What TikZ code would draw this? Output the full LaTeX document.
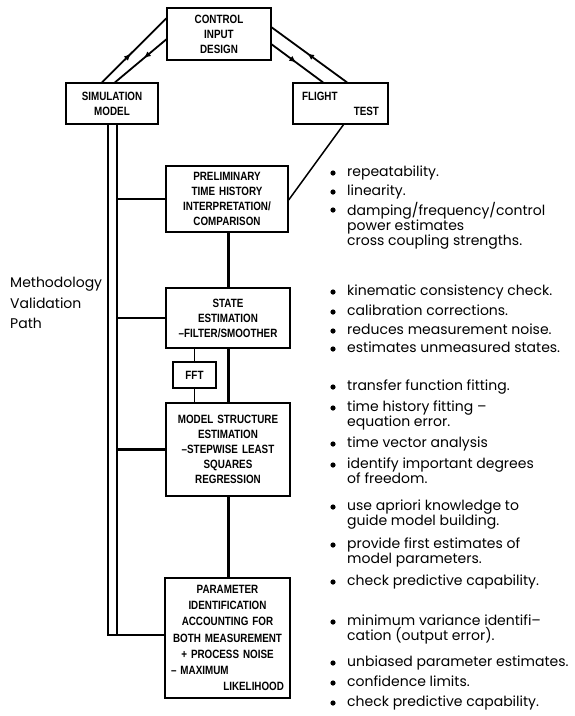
\documentclass[tikz,border=0pt]{standalone}
\usepackage{fontspec}
\newfontfamily\boxfont[FakeStretch=0.82]{Liberation Sans}
\newfontfamily\notefont{Poppins}
\usetikzlibrary{arrows.meta,decorations.markings}

\begin{document}
\begin{tikzpicture}[x=1pt, y=-1pt,
    midarrow/.style={postaction={decorate}, decoration={markings,
        mark=at position #1 with {\arrow{Latex[length=7pt,width=6pt]}}}}]
        \tikzstyle{box}=[draw, line width=1.3pt, inner xsep=3pt, inner ysep=0pt, align=center,
          font=\boxfont\bfseries\fontsize{12}{15}\selectfont]
        \tikzstyle{note}=[anchor=north west, inner sep=0pt, align=left,
          font=\notefont\fontsize{14}{15}\selectfont]
        \tikzstyle{rail}=[line width=2.3pt]

        \useasboundingbox (0,0) rectangle (575,716);

        % boxes
        \path (219,34) node[box, text width=98pt, minimum height=52pt] (ctrl) {CONTROL\\INPUT\\DESIGN};
        \path (112,103.5) node[box, text width=86pt, minimum height=41pt] (sim) {SIMULATION\\MODEL};
        \path (340.5,103.5) node[box, text width=89pt, minimum height=41pt] (flight)
          {\hspace*{6pt}FLIGHT\hspace{0pt plus 1filll}\null\\\hspace*{0pt plus 1filll}TEST\hspace*{6pt}\null};
        \path (227,199) node[box, text width=116pt, minimum height=66pt] (prelim)
          {PRELIMINARY\\TIME HISTORY\\INTERPRETATION/\\COMPARISON};
        \path (228,318) node[box, text width=118pt, minimum height=60pt] (state)
          {STATE\\ESTIMATION\\–FILTER/SMOOTHER};
        \path (194.5,375) node[box, text width=37pt, minimum height=26pt] (fft) {FFT};
        \path (228,449.5) node[box, text width=118pt, minimum height=93pt] (model)
          {MODEL STRUCTURE\\ESTIMATION\\–STEPWISE LEAST\\SQUARES\\REGRESSION};
        \path (227.5,638) node[box, text width=119pt, minimum height=120pt,
          font=\boxfont\bfseries\fontsize{12}{16.3}\selectfont] (param)
          {PARAMETER\\IDENTIFICATION\\ACCOUNTING FOR\\BOTH MEASUREMENT\\+ PROCESS NOISE\\
           \hspace*{3pt}– MAXIMUM\hspace{0pt plus 1filll}\null\\\hspace*{0pt plus 1filll}LIKELIHOOD\hspace*{3pt}\null};

        % double paths to the top box
        \draw[line width=1.8pt, midarrow=0.45] ([xshift=-10pt]sim.north) -- ([yshift=-11pt]ctrl.north west);
        \draw[line width=1.8pt, midarrow=0.44] ([yshift=-32pt]ctrl.north west) -- ([xshift=3pt]sim.north);
        \draw[line width=1.8pt, midarrow=0.53] ([xshift=6.5pt]flight.north) -- ([yshift=-20pt]ctrl.north east);
        \draw[line width=1.8pt, midarrow=0.48] ([yshift=-37pt]ctrl.north east) -- ([xshift=-17.5pt]flight.north);

        % validation rails
        \coordinate (outer) at ([xshift=-4pt]sim.south);
        \coordinate (inner) at ([xshift=5pt]sim.south);
        \draw[rail] (outer) |- ([yshift=3pt]param.west);
        \draw[rail] (inner) -- ([yshift=3pt]param.west -| inner);
        \draw[line width=2.3pt]
          (prelim.west) -- (prelim.west -| inner)
          (state.west) -- (state.west -| inner)
          (model.west) -- (model.west -| inner);

        % main chain
        \draw[line width=1.5pt] ([xshift=3pt]flight.south) -- ([yshift=-1pt]prelim.east);
        \draw[line width=3pt]
          ([xshift=1pt]prelim.south) -- (state.north)
          (state.south) -- (model.north)
          (model.south) -- ([xshift=0.5pt]param.north);
        \draw[line width=1.2pt]
          (fft.north) -- (fft.north |- state.south)
          (fft.south) -- (fft.south |- model.north);

        \path (10,303) node[anchor=west, inner sep=0pt, align=left,
          font=\notefont\fontsize{14}{20.5}\selectfont] (path) {Methodology\\Validation\\Path};

        % remarks
        \foreach \y/\t in {173/repeatability., 192/linearity.,
            210/{damping/frequency/control\\power estimates\\cross coupling strengths.},
            292/kinematic consistency check., 312/calibration corrections.,
            331/reduces measurement noise., 349/estimates unmeasured states.,
            387/transfer function fitting., 408/{time history fitting –\\equation error.},
            444/time vector analysis, 465/{identify important degrees\\of freedom.},
            507/{use apriori knowledge to\\guide model building.},
            545/{provide first estimates of\\model parameters.},
            582/check predictive capability.,
            622/{minimum variance identifi–\\cation (output error).},
            663/unbiased parameter estimates., 683/confidence limits.,
            703/check predictive capability.}
        {
          \fill (333,\y) circle (2.6pt);
          \path (347,\y-7.5) node[note] (n\y) {\t};
        }
      \end{tikzpicture}
\end{document}
